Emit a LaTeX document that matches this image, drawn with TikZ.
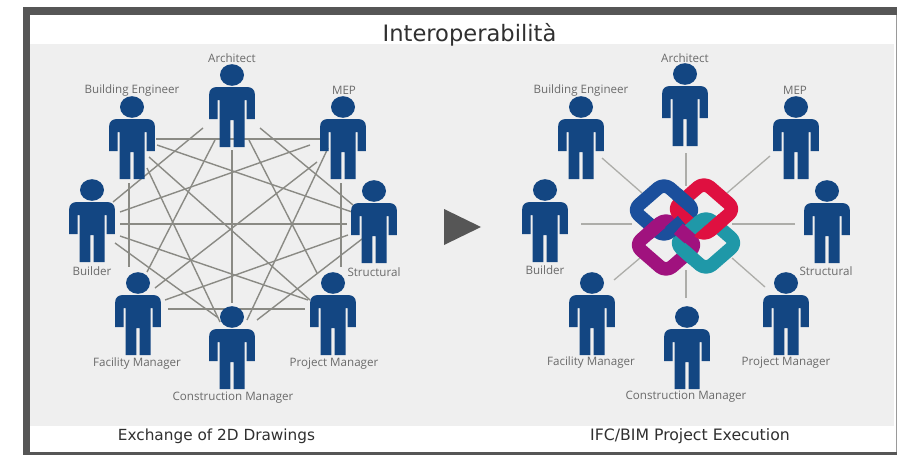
\documentclass[tikz,border=0pt]{standalone}
\usepackage{fontspec}
\setmainfont{DejaVu Sans}
\newfontfamily\labelfont{Open Sans}
\usetikzlibrary{calc}
\definecolor{frameC}{HTML}{565656}
\definecolor{edgeC}{HTML}{9A9A9A}
\definecolor{panelC}{HTML}{EFEFEF}
\definecolor{personC}{HTML}{134682}
\definecolor{linkC}{HTML}{8A8A84}
\definecolor{labelC}{HTML}{6A6A6A}
\definecolor{titleC}{HTML}{303030}
\definecolor{ifcB}{HTML}{1B4F9C}
\definecolor{ifcR}{HTML}{DF1040}
\definecolor{ifcP}{HTML}{A0127E}
\definecolor{ifcT}{HTML}{1F98A8}
\tikzset{
  link/.style={draw=linkC,line width=1.4pt},
  spoke/.style={draw=linkC!70,line width=1.3pt},
  anchorpt/.style={inner sep=0pt,minimum size=0pt,outer sep=0pt},
  role/.style={font=\labelfont\fontsize{11.6}{13}\selectfont,text=labelC,inner sep=0pt},
  caption/.style={font=\fontsize{15.3}{18}\selectfont,text=titleC,inner sep=0pt},
  ring/.style={line width=13.5pt,line join=round,rounded corners=8pt},
  patch/.style={line width=13.5pt},
  pics/person/.style={code={
    \fill[personC] (0,0) ellipse [x radius=12pt,y radius=10.8pt];
    \fill[personC] (-1.6,72) -- (-12.5,72) -- (-12.5,25) -- (-14.5,25) -- (-14.5,44) -- (-22.8,44)
      -- (-22.8,19) .. controls (-22.8,14.5) and (-19.5,12) .. (-15,12) -- (15,12)
      .. controls (19.5,12) and (22.8,14.5) .. (22.8,19) -- (22.8,44) -- (14.5,44) -- (14.5,25)
      -- (12.5,25) -- (12.5,72) -- (1.6,72) -- (1.6,45) -- (-1.6,45) -- cycle;
  }}
}
\begin{document}
\begin{tikzpicture}[x=1pt,y=-1pt]
\useasboundingbox (0,0) rectangle (898,455);
\fill[white] (0,0) rectangle (898,455);
\fill[frameC] (23,7) rectangle (897,455);
\fill[white] (30,15) rectangle (896,452);
\fill[edgeC] (896,15) rectangle (897,452);
\fill[panelC] (30,44) rectangle (894,426);

% people: each node sits on the centre of the head
\foreach \n/\x/\y in {LA/232/75,LE/132/107,LM/343/107,LB/92/190,LS/374/191,LF/138/283,LC/232/317,LP/333/283,
                      RA/685/74,RE/581/107,RM/796/107,RB/545/190,RS/827/191,RF/592/283,RC/687/317,RP/786/283}{
  \node[anchorpt] (\n) at (\x,\y) {};
}
\node[anchorpt] (hub) at (685,226) {};

% left network
\foreach \a/\ax/\ay/\b/\bx/\by in {
  LE/24/32/LM/-23/32,
  LA/0/75/LC/0/-14,
  LB/28/34/LS/-27/33,
  LF/30/26/LP/-28/26,
  LE/-3/76/LF/-9/-16,
  LM/-2/76/LP/8/-16,
  LA/-29/53/LB/21/12,
  LA/-17/65/LF/9/-11,
  LA/17/65/LP/-16/-10,
  LA/28/53/LS/-21/14,
  LE/25/38/LS/-22/21,
  LE/15/61/LC/-12/5,
  LE/17/50/LP/-23/17,
  LM/-26/55/LF/17/5,
  LM/-15/41/LC/15/3,
  LM/-33/38/LB/28/22,
  LB/28/46/LP/-25/17,
  LB/23/53/LC/-15/0,
  LS/-26/44/LF/27/17,
  LS/-12/48/LC/25/3}{
  \draw[link] ($(\a)+(\ax,\ay)$) -- ($(\b)+(\bx,\by)$);
}

% right spokes
\foreach \a/\ax/\ay/\bx/\by in {
  RA/1/79/1/-40,
  RE/21/51/-43/-33,
  RM/-26/49/42/-33,
  RB/36/34/-53/-2,
  RS/-32/33/47/-2,
  RF/22/-3/-45/32,
  RP/-21/4/47/32,
  RC/-1/-19/1/44}{
  \draw[spoke] ($(\a)+(\ax,\ay)$) -- ($(hub)+(\bx,\by)$);
}

% figures
\foreach \n in {LA,LE,LM,LB,LS,LF,LC,LP,RA,RE,RM,RB,RS,RF,RC,RP}{
  \pic at (\n) {person};
}

% IFC logo
\draw[ring,ifcB] (664,183) -- (695,210) -- (664,237) -- (633,210) -- cycle;
\draw[ring,ifcP] (666,218) -- (697,245) -- (666,272) -- (635,245) -- cycle;
\draw[ring,ifcT] (706,216) -- (737,243) -- (706,270) -- (675,243) -- cycle;
\draw[ring,ifcR] (704,182) -- (735,209) -- (704,236) -- (673,209) -- cycle;
\draw[patch,ifcB] (677,194.3) -- (689.8,205.5);
\draw[patch,ifcR] (678.2,213.5) -- (691,224.7);
\draw[patch,ifcP] (647.7,234) -- (660.5,222.8);
\draw[patch,ifcB] (669.5,232.2) -- (682.3,221);
\draw[patch,ifcT] (687.1,232.4) -- (699.9,221.2);
\draw[patch,ifcR] (710.1,230.7) -- (722.9,219.5);
\draw[patch,ifcP] (678.4,228.8) -- (691.2,240);
\draw[patch,ifcT] (680.7,248) -- (693.5,259.2);

% arrow
\fill[frameC] (444,209) -- (481,227) -- (444,245) -- cycle;

% labels
\node[role] (tLA) at (232,58) {Architect};
\node[role] (tLE) at (132,90) {Building Engineer};
\node[role] (tLM) at (344,90) {MEP};
\node[role] (tLB) at (92,271) {Builder};
\node[role] (tLS) at (374,272) {Structural};
\node[role] (tLF) at (137,363) {Facility Manager};
\node[role] (tLC) at (233,398) {Construction Manager};
\node[role] (tLP) at (334,364) {Project Manager};
\node[role] (tRA) at (685,58) {Architect};
\node[role] (tRE) at (581,90) {Building Engineer};
\node[role] (tRM) at (795,90) {MEP};
\node[role] (tRB) at (545,270) {Builder};
\node[role] (tRS) at (826,271) {Structural};
\node[role] (tRF) at (591,362) {Facility Manager};
\node[role] (tRC) at (686,397) {Construction Manager};
\node[role] (tRP) at (786,363) {Project Manager};

\node[caption,font=\fontsize{22.6}{26}\selectfont] (title) at (469.5,35) {Interoperabilità};
\node[caption] (capL) at (216.5,436) {Exchange of 2D Drawings};
\node[caption,font=\fontsize{15.7}{18}\selectfont] (capR) at (690,436) {IFC/BIM Project Execution};
\end{tikzpicture}
\end{document}
